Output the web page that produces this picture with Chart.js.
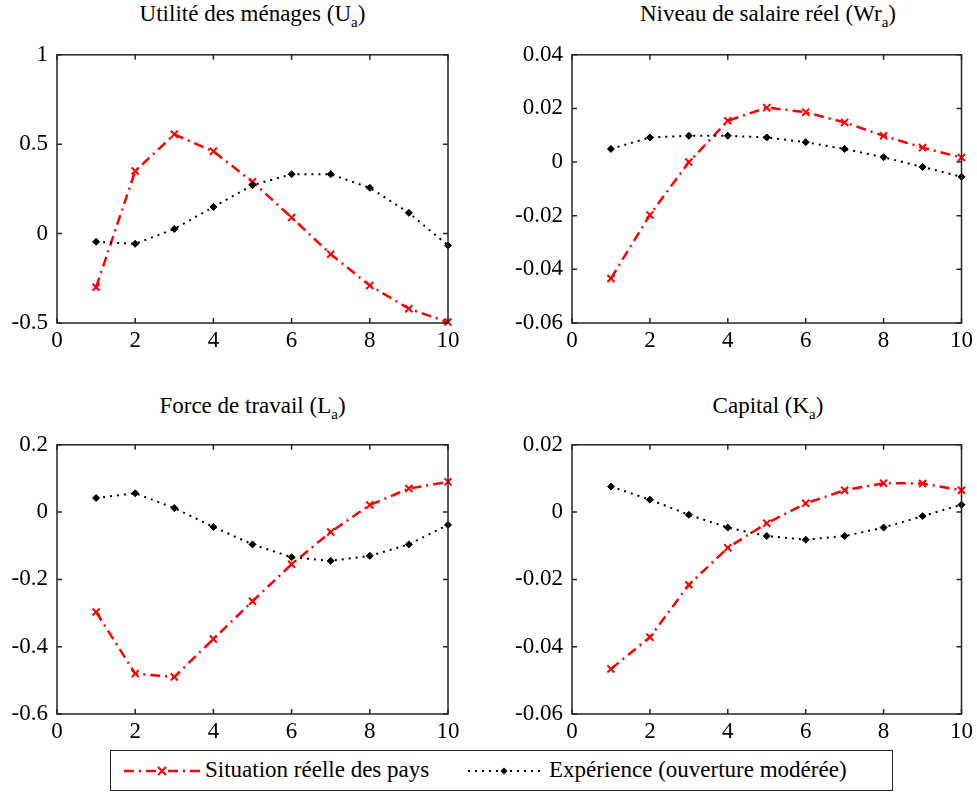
<!DOCTYPE html>
<html>
<head>
<meta charset="utf-8">
<script src="https://cdn.jsdelivr.net/npm/chart.js@4.4.1/dist/chart.umd.min.js"></script>
<style>
  body { margin: 0; background: #fff; width: 977px; height: 792px; position: relative; overflow: hidden;
         font-family: "Liberation Serif", "Times New Roman", serif; color: #000; }
  canvas { position: absolute; }
  .title { position: absolute; font-size: 23px; line-height: 26px; text-align: center; white-space: nowrap; }
  .title sub { font-size: 15px; vertical-align: -6px; line-height: 0; }
  #legend { position: absolute; left: 110px; top: 750px; width: 781px; height: 39px; border: 1.5px solid #222; }
  .ltxt { position: absolute; top: 6px; font-size: 23px; line-height: 26px; white-space: nowrap; }
  #legend svg { position: absolute; top: 12px; }
</style>
</head>
<body>

<div class="title" style="left:57px;width:391px;top:1px">Utilité des ménages (U<sub>a</sub>)</div>
<div class="title" style="left:572px;width:392px;top:1px">Niveau de salaire réel (Wr<sub>a</sub>)</div>
<div class="title" style="left:57px;width:391px;top:393px">Force de travail (L<sub>a</sub>)</div>
<div class="title" style="left:572px;width:392px;top:393px">Capital (K<sub>a</sub>)</div>

<canvas id="c1" width="480" height="328" style="left:0;top:32px"></canvas>
<canvas id="c2" width="487" height="328" style="left:490px;top:32px"></canvas>
<canvas id="c3" width="480" height="328" style="left:0;top:422px"></canvas>
<canvas id="c4" width="487" height="328" style="left:490px;top:422px"></canvas>

<div id="legend">
  <svg width="78" height="16" style="left:12px">
    <line x1="1" y1="8" x2="77" y2="8" stroke="#ff0000" stroke-width="2.5" stroke-dasharray="10,5,2,5"/>
    <path d="M35 4 L43 12 M43 4 L35 12" stroke="#ff0000" stroke-width="2"/>
  </svg>
  <div class="ltxt" style="left:94px">Situation réelle des pays</div>
  <svg width="74" height="16" style="left:356px">
    <line x1="1" y1="8" x2="73" y2="8" stroke="#000" stroke-width="2" stroke-dasharray="2,5"/>
    <path d="M37 4.5 L40.5 8 L37 11.5 L33.5 8 Z" fill="#000"/>
  </svg>
  <div class="ltxt" style="left:438px">Expérience (ouverture modérée)</div>
</div>

<script>
const periods = [1, 2, 3, 4, 5, 6, 7, 8, 9, 10];
const xTicks = [0, 2, 4, 6, 8, 10];

const utiliteReelle = [-0.30, 0.35, 0.555, 0.46, 0.29, 0.09, -0.115, -0.29, -0.42, -0.495];
const utiliteExp    = [-0.046, -0.057, 0.026, 0.149, 0.271, 0.332, 0.332, 0.256, 0.116, -0.066];
const utiliteTicks  = [-0.5, 0, 0.5, 1];

const salaireReelle = [-0.0434, -0.0197, 0, 0.0154, 0.0203, 0.0186, 0.0148, 0.0098, 0.0054, 0.0017];
const salaireExp    = [0.0049, 0.0092, 0.0098, 0.0098, 0.0092, 0.0074, 0.0049, 0.0018, -0.0018, -0.0055];
const salaireTicks  = [-0.06, -0.04, -0.02, 0, 0.02, 0.04];

const travailReelle = [-0.297, -0.48, -0.49, -0.377, -0.265, -0.155, -0.059, 0.021, 0.070, 0.090];
const travailExp    = [0.042, 0.056, 0.012, -0.044, -0.096, -0.134, -0.145, -0.130, -0.096, -0.038];
const travailTicks  = [-0.6, -0.4, -0.2, 0, 0.2];

const capitalReelle = [-0.0466, -0.0372, -0.0216, -0.0106, -0.0033, 0.0026, 0.0065, 0.0086, 0.0085, 0.0065];
const capitalExp    = [0.0076, 0.0037, -0.0008, -0.0046, -0.0071, -0.0082, -0.0071, -0.0046, -0.0012, 0.0022];
const capitalTicks  = [-0.06, -0.04, -0.02, 0, 0.02];

const fontFamily = '"Liberation Serif", "Times New Roman", serif';

// matlab style box with inward ticks on every side
const boxPlugin = {
  id: 'box',
  afterDraw(chart) {
    const { ctx, chartArea: a, scales: { x, y } } = chart;
    ctx.save();
    ctx.strokeStyle = '#262626';
    ctx.lineWidth = 1.5;
    ctx.strokeRect(a.left, a.top, a.right - a.left, a.bottom - a.top);
    ctx.beginPath();
    x.ticks.forEach(t => {
      const px = x.getPixelForValue(t.value);
      ctx.moveTo(px, a.bottom); ctx.lineTo(px, a.bottom - 5);
      ctx.moveTo(px, a.top); ctx.lineTo(px, a.top + 5);
    });
    y.ticks.forEach(t => {
      const py = y.getPixelForValue(t.value);
      ctx.moveTo(a.left, py); ctx.lineTo(a.left + 5, py);
      ctx.moveTo(a.right, py); ctx.lineTo(a.right - 5, py);
    });
    ctx.stroke();
    ctx.restore();
  }
};

function panel(id, reelle, exp, yTicks, yWidth, padRight, xHeight) {
  new Chart(document.getElementById(id), {
    type: 'line',
    data: {
      datasets: [
        {
          label: 'Situation réelle des pays',
          data: periods.map((p, i) => ({ x: p, y: reelle[i] })),
          borderColor: '#ff0000',
          borderWidth: 2.5,
          borderDash: [10, 5, 2, 5],
          pointStyle: 'crossRot',
          pointRadius: 5,
          pointBorderWidth: 2,
          pointBorderColor: '#ff0000',
          fill: false,
          tension: 0,
          clip: false,
          order: 2
        },
        {
          label: 'Expérience (ouverture modérée)',
          data: periods.map((p, i) => ({ x: p, y: exp[i] })),
          borderColor: '#000',
          borderWidth: 2,
          borderDash: [2, 5],
          pointStyle: 'rectRot',
          pointRadius: 3.5,
          pointBorderWidth: 1,
          pointBorderColor: '#000',
          pointBackgroundColor: '#000',
          fill: false,
          tension: 0,
          clip: false,
          order: 1
        }
      ]
    },
    options: {
      responsive: false,
      animation: false,
      layout: { padding: { top: 20, right: padRight, left: 0, bottom: 0 } },
      plugins: { legend: { display: false }, tooltip: { enabled: false } },
      scales: {
        x: {
          type: 'linear', min: 0, max: 10,
          afterBuildTicks: s => { s.ticks = xTicks.map(v => ({ value: v })); },
          afterFit: s => { s.height = xHeight; },
          grid: { display: false, drawTicks: false },
          border: { display: false },
          ticks: { color: '#000', padding: 4, maxRotation: 0, autoSkip: false,
                   font: { family: fontFamily, size: 23 }, callback: v => String(v) }
        },
        y: {
          type: 'linear', min: yTicks[0], max: yTicks[yTicks.length - 1],
          afterBuildTicks: s => { s.ticks = yTicks.map(v => ({ value: v })); },
          afterFit: s => { s.width = yWidth; },
          grid: { display: false, drawTicks: false },
          border: { display: false },
          ticks: { color: '#000', padding: 9, autoSkip: false,
                   font: { family: fontFamily, size: 23 }, callback: v => String(v) }
        }
      }
    },
    plugins: [boxPlugin]
  });
}

panel('c1', utiliteReelle, utiliteExp, utiliteTicks, 57, 32, 37);
panel('c2', salaireReelle, salaireExp, salaireTicks, 82, 13, 37);
panel('c3', travailReelle, travailExp, travailTicks, 57, 32, 36);
panel('c4', capitalReelle, capitalExp, capitalTicks, 82, 13, 36);
</script>
</body>
</html>
